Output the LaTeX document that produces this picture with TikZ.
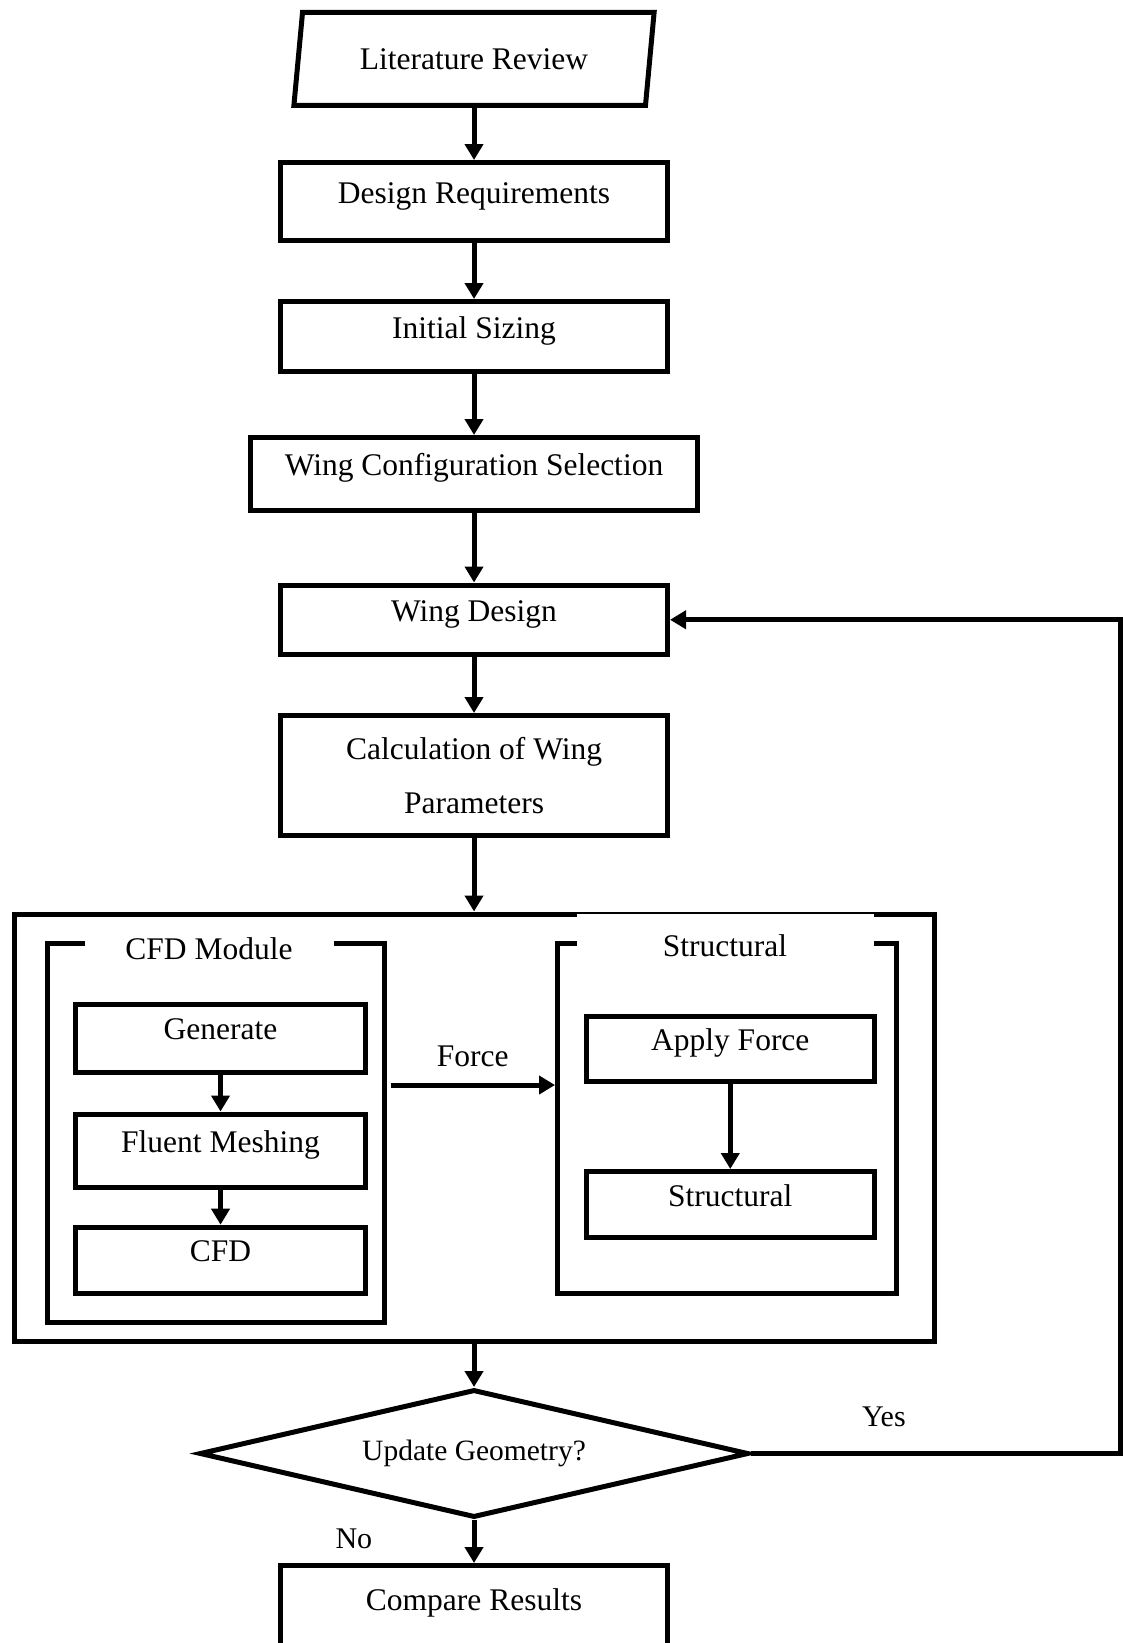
\documentclass[tikz,border=0pt]{standalone}
\usepackage{fontspec}
\setmainfont{Liberation Serif}
\usetikzlibrary{shapes,arrows.meta,positioning,calc}

\begin{document}
\begin{tikzpicture}[
    x=1pt, y=1pt,
    font=\fontsize{31.5}{38}\selectfont,
    box/.style={rectangle, draw=black, line width=5pt, fill=white, minimum width=387pt},
    proc/.style={box, text height=0.72em, text depth=0.4em},
    sub/.style={proc, minimum width=290pt},
    inbox/.style={trapezium, trapezium left angle=78, trapezium right angle=102, trapezium stretches=true, draw=black, line width=5pt, minimum width=361pt, minimum height=93pt},
    decision/.style={diamond, aspect=4.3, draw=black, line width=5pt, minimum width=549pt, minimum height=128pt, inner sep=0pt, font=\fontsize{29.5}{36}\selectfont},
    module/.style={rectangle, draw=black, line width=5pt},
    modtitle/.style={rectangle, fill=white, inner sep=0pt},
    arrow/.style={draw, line width=5pt, -{Triangle[length=16pt, width=18pt]}},
    lbl/.style={font=\fontsize{30}{36}\selectfont}
]
\useasboundingbox (0,0) rectangle (1122,-1643);

% main column
\node [inbox] (lit) at (474,-59) {Literature Review};
\node [proc, minimum height=78pt, below=52pt of lit] (dreq) {Design Requirements};
\node [proc, minimum height=70pt, below=56pt of dreq] (sizing) {Initial Sizing};
\node [proc, minimum width=447pt, minimum height=73pt, below=61pt of sizing] (config) {Wing Configuration Selection};
\node [proc, minimum height=69.5pt, below=69.5pt of config] (wd) {Wing Design};
\node [box, minimum height=120pt, align=center, font=\fontsize{31.5}{54.5}\selectfont, below=56pt of wd] (calc) {Calculation of Wing\\Parameters};

% coupled analysis block
\node [module, minimum width=920pt, minimum height=427.5pt, below=73.5pt of calc] (fsi) {};
\node [module, minimum width=336.5pt, minimum height=379pt, anchor=north west] (cfdmod) at ([shift={(33.5,-29.5)}]fsi.north west) {};
\node [module, minimum width=339pt, minimum height=350pt, anchor=north west] (strmod) at ([xshift=168.5pt]cfdmod.north east) {};
\node [modtitle, minimum width=249pt, minimum height=40pt] (cfdttl) at ([shift={(-6.75,-8)}]cfdmod.north) {CFD Module};
\node [modtitle, minimum width=297pt, minimum height=64pt] (strttl) at ([shift={(-2,-5)}]strmod.north) {Structural};

\node [sub, minimum height=68.5pt, anchor=north west] (gen) at ([shift={(28,-60.5)}]cfdmod.north west) {Generate};
\node [sub, minimum height=73.5pt, below=36.5pt of gen] (mesh) {Fluent Meshing};
\node [sub, minimum height=66pt, below=34.7pt of mesh] (cfd) {CFD};
\node [sub, minimum width=288.5pt, minimum height=65pt, anchor=north west] (apply) at ([shift={(28.5,-73)}]strmod.north west) {Apply Force};
\node [sub, minimum width=288.5pt, minimum height=66pt, below=85pt of apply] (strc) {Structural};

% decision and end
\node [decision, below=43pt of fsi] (dia) {Update Geometry?};
\node [proc, minimum height=86pt, below=43pt of dia] (cr) {Compare Results};

\coordinate (forcelvl) at ([yshift=-10pt]gen.south);
\coordinate (loopx) at (1120,0);

\draw [arrow] (lit.south) -- (dreq.north);
\draw [arrow] (dreq.south) -- (sizing.north);
\draw [arrow] (sizing.south) -- (config.north);
\draw [arrow] (config.south) -- (wd.north);
\draw [arrow] (wd.south) -- (calc.north);
\draw [arrow] (calc.south) -- (fsi.north);
\draw [arrow] (gen.south) -- (mesh.north);
\draw [arrow] (mesh.south) -- (cfd.north);
\draw [arrow] (apply.south) -- (strc.north);
\draw [arrow] ($(cfdmod.east |- forcelvl)+(4,0)$) -- node[above=12pt] {Force} (strmod.west |- forcelvl);
\draw [arrow] (fsi.south) -- (dia.north);
\draw [arrow] (dia.south) -- node[lbl, pos=0.44, left=96pt] {No} (cr.north);
\draw [arrow] (dia.east) -- node[lbl, pos=0.36, above=21pt] {Yes} (dia.east -| loopx) |- (wd.east);

\end{tikzpicture}
\end{document}
